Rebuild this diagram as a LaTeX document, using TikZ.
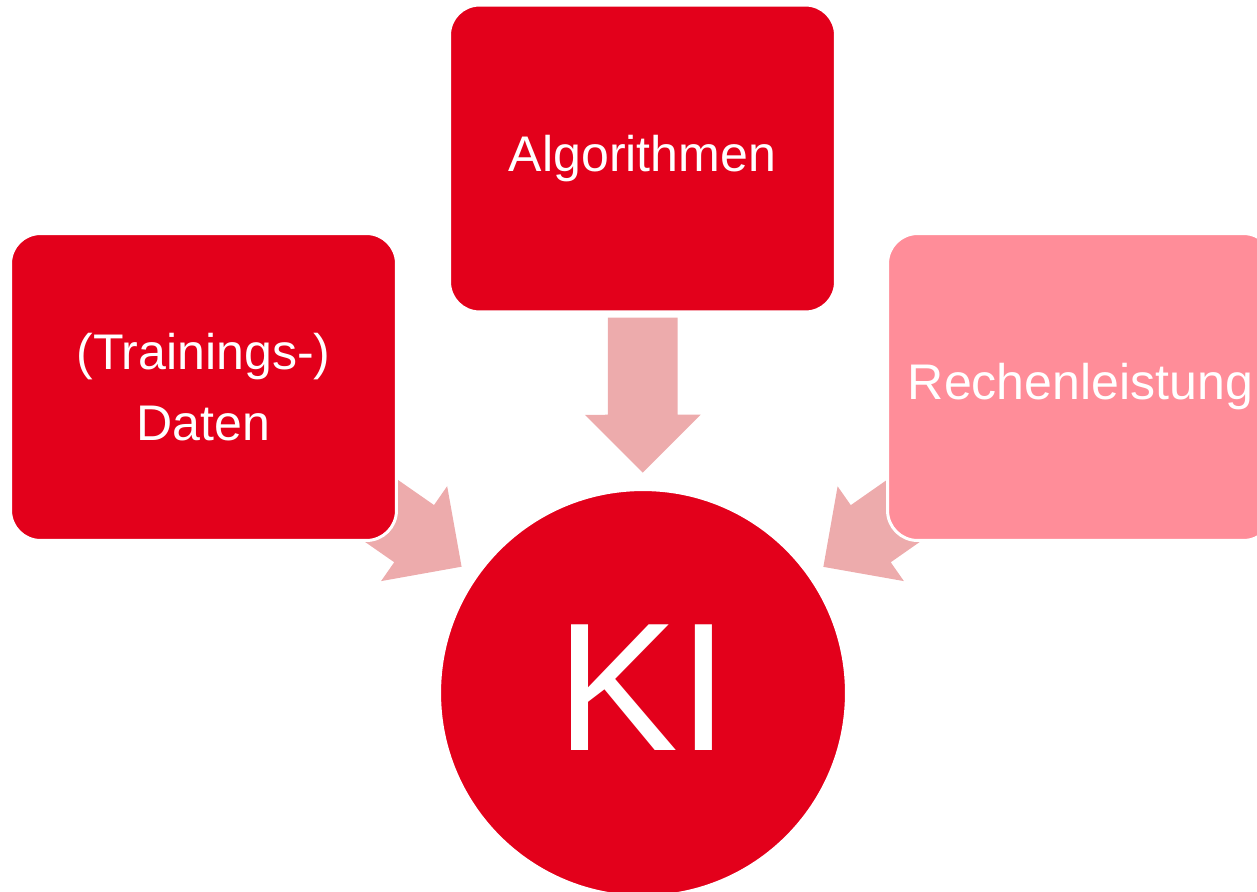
\documentclass[tikz,border=0pt]{standalone}
\usepackage{fontspec}
\setmainfont{Liberation Sans}
\usepackage{tikz}
\usetikzlibrary{calc, positioning, shapes.arrows, backgrounds}
\definecolor{kirot}{RGB}{227,0,27}
\definecolor{kirosa}{RGB}{255,141,153}
\definecolor{pfeilrosa}{RGB}{237,171,172}

\begin{document}
\begin{tikzpicture}[x=0.02cm,y=-0.02cm,
  kasten/.style={rectangle, rounded corners=0.6cm, draw=white, line width=0.06cm,
    minimum width=7.72cm, minimum height=6.14cm, text=white, align=center,
    font=\fontsize{28.5}{40.4}\selectfont},
  pfeil/.style={single arrow, fill=pfeilrosa, inner xsep=0pt, inner ysep=0.69cm,
    minimum height=3.1cm, single arrow head extend=0.46cm, single arrow tip angle=90,
    sloped, allow upside down, pos=.41}]
\useasboundingbox (0,0) rectangle (1257,892);
%KI aus Daten, Algorithmen, Rechenleistung

\node[kasten, fill=kirot] (daten) at (203.5,387) {(Trainings-)\\Daten};
\node[kasten, fill=kirot] (alg) at (642.5,158.5) {Algorithmen};
\node[kasten, fill=kirosa] (rechen) at (1080.5,387) {Rechenleistung};
\node[circle, fill=kirot, draw=white, line width=0.06cm, minimum size=8.14cm,
  text=white, font=\fontsize{104}{104}\selectfont] (ki) at (643,693) {\raisebox{0.23cm}{KI}};

\begin{scope}[on background layer]
\path (daten.center) -- (ki.center) node[pfeil] (p1) {};
\path (alg.center) -- (ki.center) node[pfeil] (p2) {};
\path (rechen.center) -- (ki.center) node[pfeil] (p3) {};
\end{scope}
\end{tikzpicture}
\end{document}
